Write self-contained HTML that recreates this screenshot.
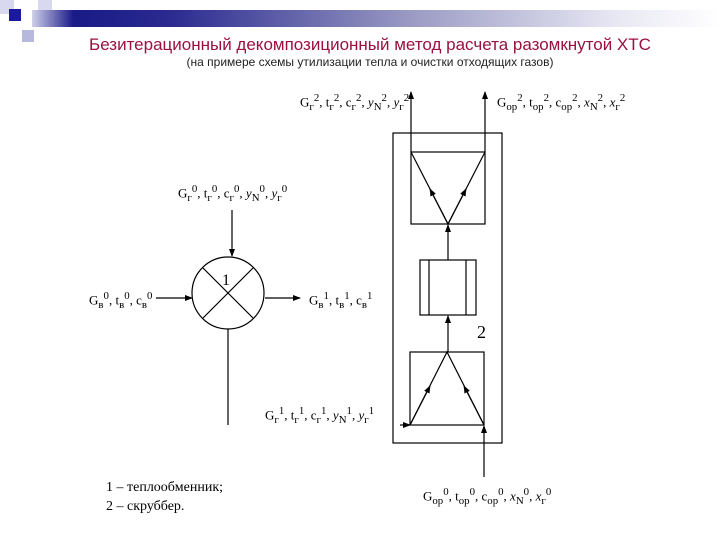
<!DOCTYPE html>
<html><head><meta charset="utf-8"><style>
body{margin:0;width:720px;height:540px;background:#fff;overflow:hidden;position:relative;font-family:"Liberation Serif",serif}
.t{position:absolute;white-space:nowrap}
</style></head><body>
<div style="position:absolute;left:0;top:0;width:14px;height:14px;background:#d8d8ee"></div>
<div style="position:absolute;left:38px;top:0;width:14px;height:12px;background:#d8d8ee"></div>
<div style="position:absolute;left:22px;top:30px;width:12px;height:12px;background:#b8b8dc"></div>
<div style="position:absolute;left:32px;top:10px;width:688px;height:17px;background:linear-gradient(90deg,#d0d0ea 0%,#1a1a88 6%,#2a2a90 20%,#9a9ac4 55%,#e8e8f4 85%,#fff 100%)"></div>
<div style="position:absolute;left:9px;top:9px;width:12px;height:12px;background:#1a1a9a"></div>
<div class="t" style="left:0;width:740px;text-align:center;top:35px;font:17px 'Liberation Sans',sans-serif;color:#9a1040">Безитерационный декомпозиционный метод расчета разомкнутой ХТС</div>
<div class="t" style="left:0;width:740px;text-align:center;top:55px;font:12px 'Liberation Sans',sans-serif;color:#222">(на примере схемы утилизации тепла и очистки отходящих газов)</div>
<svg width="720" height="540" style="position:absolute;left:0;top:0" stroke="#000" stroke-width="1.2" fill="none">
<defs><marker id="a" markerWidth="8" markerHeight="8" refX="7" refY="4" orient="auto" markerUnits="userSpaceOnUse"><path d="M0,1 L8,4 L0,7Z" fill="#000" stroke="none"/></marker></defs>
<circle cx="228" cy="293" r="36"/>
<line x1="203" y1="268" x2="253" y2="318"/><line x1="253" y1="268" x2="203" y2="318"/>
<line x1="232" y1="210" x2="232" y2="256" marker-end="url(#a)"/>
<line x1="156" y1="298" x2="192" y2="298" marker-end="url(#a)"/>
<line x1="265" y1="298" x2="300" y2="298" marker-end="url(#a)"/>
<line x1="228" y1="329" x2="228" y2="425"/>
<rect x="393" y="133" width="109" height="310"/>
<rect x="411" y="152" width="74" height="72"/>
<path d="M411,152 L448,224 L485,152"/>
<line x1="448" y1="224" x2="430" y2="189" marker-end="url(#a)"/>
<line x1="448" y1="224" x2="466" y2="189" marker-end="url(#a)"/>
<line x1="411" y1="152" x2="411" y2="92" marker-end="url(#a)"/>
<line x1="485" y1="152" x2="485" y2="92" marker-end="url(#a)"/>
<rect x="420" y="260" width="56" height="55"/>
<line x1="429" y1="260" x2="429" y2="315"/><line x1="466" y1="260" x2="466" y2="315"/>
<line x1="448" y1="260" x2="448" y2="225" marker-end="url(#a)"/>
<line x1="448" y1="352" x2="448" y2="316" marker-end="url(#a)"/>
<rect x="410" y="352" width="74" height="73"/>
<path d="M410,425 L447,352 L484,425"/>
<line x1="410" y1="425" x2="430" y2="386" marker-end="url(#a)"/>
<line x1="484" y1="425" x2="464" y2="386" marker-end="url(#a)"/>
<line x1="400" y1="425" x2="410" y2="425" marker-end="url(#a)"/>
<line x1="484" y1="477" x2="484" y2="426" marker-end="url(#a)"/>
</svg>
<div class="t" style="left:300px;top:92px;font-size:13px">G<sub>г</sub><sup>2</sup>, t<sub>г</sub><sup>2</sup>, c<sub>г</sub><sup>2</sup>, <i>y</i><sub>N</sub><sup>2</sup>, <i>y</i><sub>г</sub><sup>2</sup></div>
<div class="t" style="left:497px;top:92px;font-size:13px">G<sub>ор</sub><sup>2</sup>, t<sub>ор</sub><sup>2</sup>, c<sub>ор</sub><sup>2</sup>, <i>x</i><sub>N</sub><sup>2</sup>, <i>x</i><sub>г</sub><sup>2</sup></div>
<div class="t" style="left:178px;top:183px;font-size:13px">G<sub>г</sub><sup>0</sup>, t<sub>г</sub><sup>0</sup>, c<sub>г</sub><sup>0</sup>, <i>y</i><sub>N</sub><sup>0</sup>, <i>y</i><sub>г</sub><sup>0</sup></div>
<div class="t" style="left:89px;top:290px;font-size:13px">G<sub>в</sub><sup>0</sup>, t<sub>в</sub><sup>0</sup>, c<sub>в</sub><sup>0</sup></div>
<div class="t" style="left:309px;top:290px;font-size:13px">G<sub>в</sub><sup>1</sup>, t<sub>в</sub><sup>1</sup>, c<sub>в</sub><sup>1</sup></div>
<div class="t" style="left:222px;top:272px;font-size:16px">1</div>
<div class="t" style="left:477px;top:322px;font-size:18px">2</div>
<div class="t" style="left:265px;top:405px;font-size:13px">G<sub>г</sub><sup>1</sup>, t<sub>г</sub><sup>1</sup>, c<sub>г</sub><sup>1</sup>, <i>y</i><sub>N</sub><sup>1</sup>, <i>y</i><sub>г</sub><sup>1</sup></div>
<div class="t" style="left:423px;top:486px;font-size:13px">G<sub>ор</sub><sup>0</sup>, t<sub>ор</sub><sup>0</sup>, c<sub>ор</sub><sup>0</sup>, <i>x</i><sub>N</sub><sup>0</sup>, <i>x</i><sub>г</sub><sup>0</sup></div>
<div class="t" style="left:106px;top:478px;font-size:14px;line-height:19px">1 – теплообменник;<br>2 – скруббер.</div>
</body></html>
